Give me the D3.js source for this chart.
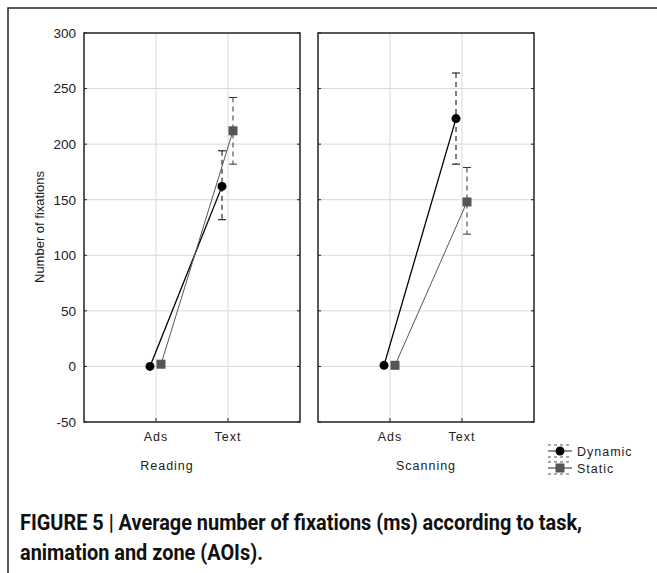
<!DOCTYPE html>
<html lang="en">
<head>
  <meta charset="UTF-8" />
  <title>Average number of fixations</title>
  <script src="https://d3js.org/d3.v7.min.js"></script>
  <style>
    body { margin: 0; background: #fff; font-family: "Liberation Sans", Arial, sans-serif; }
    svg text { font-family: "Liberation Sans", Arial, sans-serif; }
    .grid line { stroke: #d9d9d9; stroke-width: 1; }
    .tick text { font-size: 13.5px; fill: #222; }
  </style>
</head>
<body>
  <svg width="657" height="573"></svg>
  <script>
    // data
    const tasks = ["Reading", "Scanning"];
    const zones = ["Ads", "Text"];
    const series = ["Dynamic", "Static"];
    const yTicks = [-50, 0, 50, 100, 150, 200, 250, 300];
    // means per task, [Ads, Text]
    const dynamicMean = { Reading: [0, 162], Scanning: [1, 223] };
    const staticMean = { Reading: [2, 212], Scanning: [1, 148] };
    // error bar ranges for the Text zone [low, high]
    const dynamicErr = { Reading: [132, 194], Scanning: [182, 264] };
    const staticErr = { Reading: [182, 242], Scanning: [119, 179] };

    const svg = d3.select("svg");
    const panels = [{ task: "Reading", left: 84, labelX: 167 }, { task: "Scanning", left: 318, labelX: 426 }];
    const pw = 216, plotTop = 33, plotBottom = 422;

    // outer frame
    svg.append("path").attr("d", "M8,600 L8,8 L700,8")
      .attr("fill", "none").attr("stroke", "#222").attr("stroke-width", 1.5);

    const y = d3.scaleLinear().domain([-50, 300]).range([plotBottom, plotTop]);

    const styles = {
      Dynamic: { mean: dynamicMean, err: dynamicErr, dx: -6, color: "#000", lw: 1.3 },
      Static: { mean: staticMean, err: staticErr, dx: 5, color: "#555", lw: 1 }
    };

    panels.forEach((p, pi) => {
      const g = svg.append("g");
      const x = d3.scalePoint().domain(["", ...zones, " "]).range([p.left, p.left + pw]);

      // grid
      const grid = g.append("g").attr("class", "grid");
      grid.selectAll(".h").data(yTicks.slice(1, -1)).join("line")
        .attr("x1", p.left).attr("x2", p.left + pw)
        .attr("y1", d => y(d)).attr("y2", d => y(d));
      grid.selectAll(".v").data(zones).join("line")
        .attr("x1", d => x(d)).attr("x2", d => x(d))
        .attr("y1", plotTop).attr("y2", plotBottom);

      // inner ticks
      const ticks = g.append("g").attr("stroke", "#222");
      ticks.selectAll(".l").data(yTicks).join("line")
        .attr("x1", p.left).attr("x2", p.left + 3).attr("y1", d => y(d)).attr("y2", d => y(d));
      ticks.selectAll(".r").data(yTicks).join("line")
        .attr("x1", p.left + pw - 3).attr("x2", p.left + pw).attr("y1", d => y(d)).attr("y2", d => y(d));
      ticks.selectAll(".b").data(zones).join("line")
        .attr("x1", d => x(d)).attr("x2", d => x(d)).attr("y1", plotBottom).attr("y2", plotBottom - 4);

      g.append("rect").attr("x", p.left).attr("y", plotTop).attr("width", pw).attr("height", plotBottom - plotTop)
        .attr("fill", "none").attr("stroke", "#222").attr("stroke-width", 1.5);

      if (pi === 0) {
        const yAxis = g.append("g").attr("transform", `translate(${p.left},0)`)
          .call(d3.axisLeft(y).tickValues(yTicks).tickSize(0).tickPadding(8).tickFormat(d => String(d)));
        yAxis.attr("font-family", null);
        yAxis.select(".domain").remove();
        g.append("text").attr("transform", `translate(44,227) rotate(-90)`)
          .attr("text-anchor", "middle").attr("font-size", 13).attr("fill", "#222")
          .text("Number of fixations");
      }

      g.selectAll(".cat").data(zones).join("text")
        .attr("x", d => x(d)).attr("y", 441).attr("text-anchor", "middle")
        .attr("font-size", 12.5).attr("letter-spacing", 1).attr("fill", "#222").text(d => d);
      g.append("text").attr("x", p.labelX).attr("y", 470).attr("text-anchor", "middle")
        .attr("font-size", 12.5).attr("letter-spacing", 1).attr("fill", "#222").text(p.task);

      series.forEach(s => {
        const st = styles[s];
        const vals = st.mean[p.task];
        const pts = zones.map((z, i) => [x(z) + st.dx, y(vals[i])]);
        g.append("path").attr("d", d3.line()(pts))
          .attr("fill", "none").attr("stroke", st.color).attr("stroke-width", st.lw);

        const [lo, hi] = st.err[p.task];
        const ex = x("Text") + st.dx;
        const eb = g.append("g").attr("stroke", st.color === "#000" ? "#000" : "#333").attr("stroke-width", 1);
        eb.append("line").attr("x1", ex).attr("x2", ex).attr("y1", y(hi)).attr("y2", y(lo))
          .attr("stroke-dasharray", "5,4");
        [lo, hi].forEach(v => eb.append("line").attr("x1", ex - 4).attr("x2", ex + 4)
          .attr("y1", y(v)).attr("y2", y(v)));

        pts.forEach(([px, py]) => {
          if (s === "Dynamic") {
            g.append("circle").attr("cx", px).attr("cy", py).attr("r", 4.5).attr("fill", "#000");
          } else {
            g.append("rect").attr("x", px - 4.5).attr("y", py - 4.5).attr("width", 9).attr("height", 9)
              .attr("fill", "#555");
          }
        });
      });
    });

    // legend
    const legend = svg.append("g").attr("transform", "translate(560,0)");
    series.forEach((s, i) => {
      const cy = 451 + i * 17;
      const lg = legend.append("g").attr("stroke", "#222").attr("stroke-width", 1);
      lg.append("line").attr("x1", -12).attr("x2", 12).attr("y1", cy).attr("y2", cy);
      [-6, 6].forEach(o => lg.append("line").attr("x1", -12).attr("x2", 12)
        .attr("y1", cy + o).attr("y2", cy + o).attr("stroke-dasharray", "3,3").attr("stroke", "#555"));
      if (s === "Dynamic") {
        legend.append("circle").attr("cx", 0).attr("cy", cy).attr("r", 4.5).attr("fill", "#000");
      } else {
        legend.append("rect").attr("x", -4.5).attr("y", cy - 4.5).attr("width", 9).attr("height", 9).attr("fill", "#555");
      }
      legend.append("text").attr("x", 17).attr("y", cy + 4.5).attr("font-size", 12.5)
        .attr("letter-spacing", 1).attr("fill", "#222").text(s);
    });

    // caption (condensed bold: squeeze both lines by the same factor)
    const cap = svg.append("g").attr("font-weight", "bold").attr("font-size", 22).attr("fill", "#111");
    const l1 = cap.append("text").attr("x", 20).attr("y", 530)
      .text("FIGURE 5 | Average number of fixations (ms) according to task,")
      .style("font-family", "Roboto, sans-serif");
    const l2 = cap.append("text").attr("x", 20).attr("y", 560)
      .text("animation and zone (AOIs).")
      .style("font-family", "Roboto, sans-serif");
    const squeeze = 562 / l1.node().getComputedTextLength();
    [l1, l2].forEach(t => t.attr("textLength", t.node().getComputedTextLength() * squeeze)
      .attr("lengthAdjust", "spacingAndGlyphs"));
  </script>
</body>
</html>
